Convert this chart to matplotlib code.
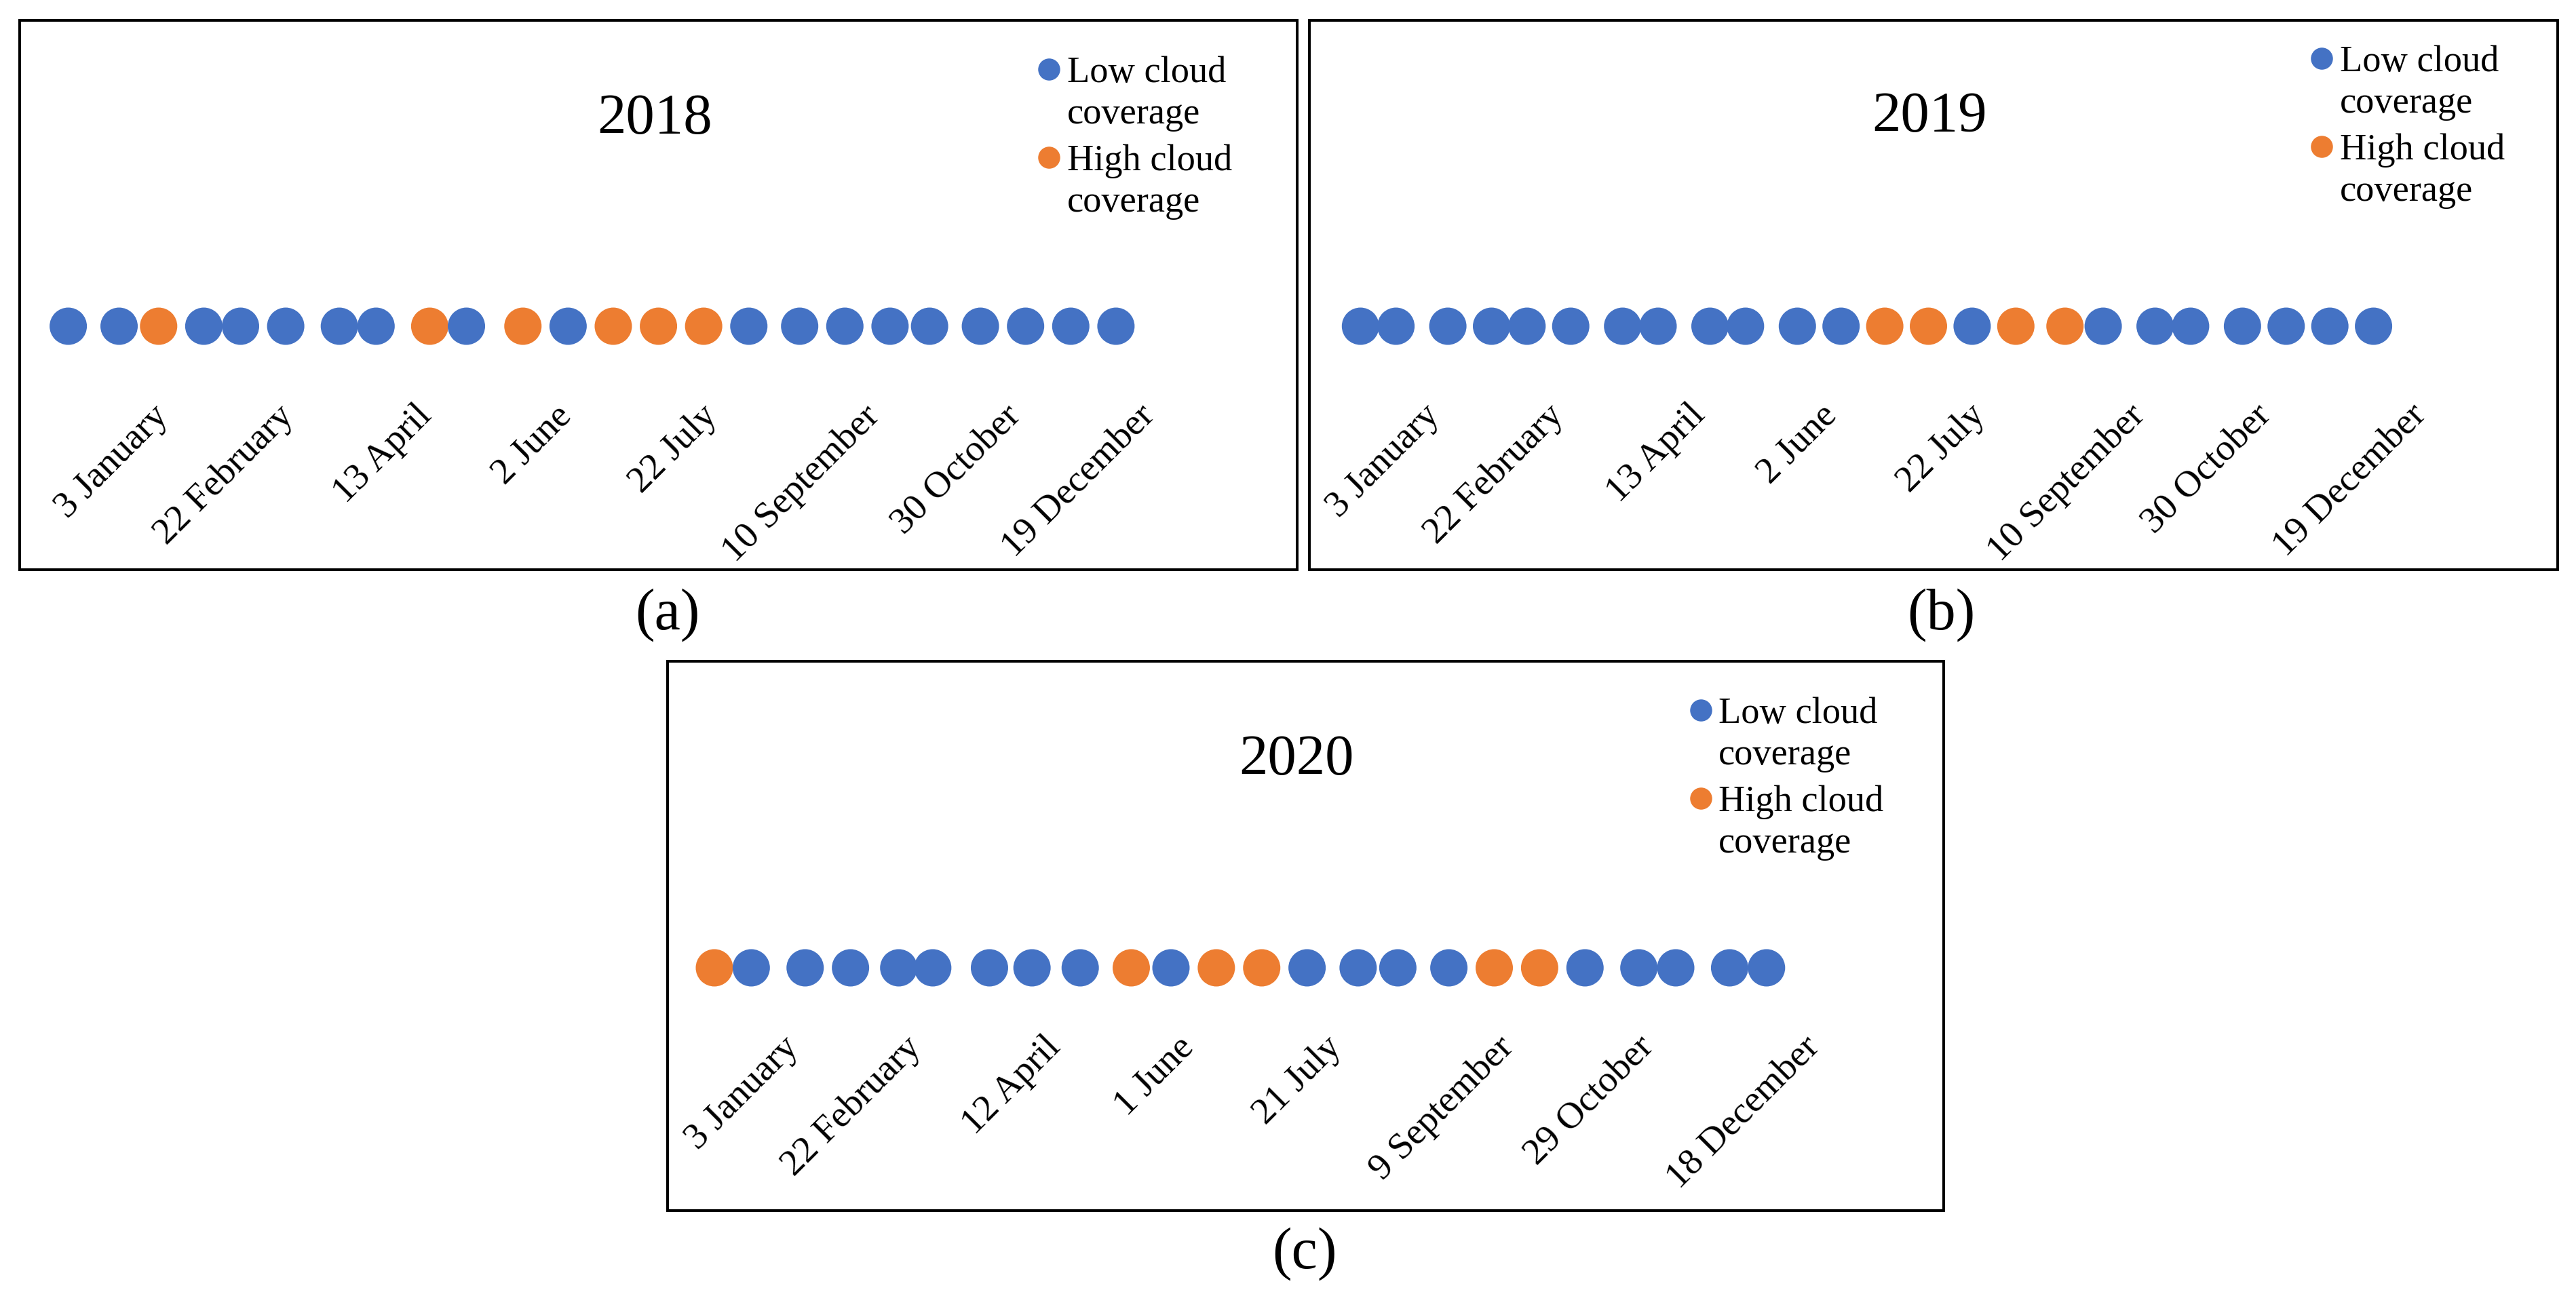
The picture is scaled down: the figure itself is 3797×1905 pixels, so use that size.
import matplotlib
matplotlib.use("Agg")
import matplotlib.pyplot as plt
from matplotlib.transforms import Affine2D

W, H = 3798, 1906
DPI = 200
SERIF = ["Liberation Serif", "DejaVu Serif"]

BLUE = "#4472C4"
ORANGE = "#ED7D31"

# ---------------- data (days counted from 3 January of each year) -------------
days_2018 = [0, 18, 32, 48, 61, 77, 96, 109, 128, 141, 161, 177, 193, 209, 225,
             241, 259, 275, 291, 305, 323, 339, 355, 371]
cloud_2018 = ["L", "L", "H", "L", "L", "L", "L", "L", "H", "L", "H", "L", "H",
              "H", "H", "L", "L", "L", "L", "L", "L", "L", "L", "L"]

days_2019 = [0, 13, 32, 48, 61, 77, 96, 109, 128, 141, 160, 176, 192, 208, 224,
             240, 258, 272, 291, 304, 323, 339, 355, 371]
cloud_2019 = ["L", "L", "L", "L", "L", "L", "L", "L", "L", "L", "L", "L", "H",
              "H", "L", "H", "H", "L", "L", "L", "L", "L", "L", "L"]

days_2020 = [0, 13, 32, 48, 65, 77, 97, 112, 129, 147, 161, 177, 193, 209, 227,
             241, 259, 275, 291, 307, 326, 339, 358, 371]
cloud_2020 = ["H", "L", "L", "L", "L", "L", "L", "L", "L", "H", "L", "H", "H",
              "L", "L", "L", "L", "H", "H", "L", "L", "L", "L", "L"]

labels_2018 = ["3 January", "22 February", "13 April", "2 June", "22 July",
               "10 September", "30 October", "19 December"]
labels_2019 = ["3 January", "22 February", "13 April", "2 June", "22 July",
               "10 September", "30 October", "19 December"]
labels_2020 = ["3 January", "22 February", "12 April", "1 June", "21 July",
               "9 September", "29 October", "18 December"]

# positions of the label anchors along the day axis
ticks_2018 = [29.2, 73.7, 122.7, 172.0, 223.6, 281.3, 331.2, 378.8]
ticks_2019 = [22.6, 68.1, 119.8, 168.2, 222.4, 281.0, 327.2, 384.1]
ticks_2020 = [23.5, 66.8, 115.9, 162.8, 214.9, 275.7, 325.2, 383.6]

years = ["2018", "2019", "2020"]
captions = ["(a)", "(b)", "(c)"]
legend_labels = [("Low cloud", "coverage"), ("High cloud", "coverage")]

# ---------------- layout (pixel geometry) ----------------------------------------
layout = [
    dict(box=(29, 31, 1912, 841), x0=100.6, ppd=4.1625, row=482, lab_y=588,
         title=(965, 197), cap=(984, 927), leg=(1546, 1573, 0)),
    dict(box=(1930, 31, 3770, 841), x0=2005.3, ppd=4.025, row=482, lab_y=587,
         title=(2844, 194), cap=(2861, 927), leg=(3422, 3449, -16)),
    dict(box=(984, 976, 2865, 1786), x0=1053.0, ppd=4.18, row=1428, lab_y=1519,
         title=(1911, 1142), cap=(1923, 1869), leg=(2507, 2533, 0)),
]
series = [(days_2018, cloud_2018, labels_2018, ticks_2018),
          (days_2019, cloud_2019, labels_2019, ticks_2019),
          (days_2020, cloud_2020, labels_2020, ticks_2020)]

fig = plt.figure(figsize=(W / DPI, H / DPI), dpi=DPI)
fig.patch.set_facecolor("white")
PX = Affine2D().scale(1, -1).translate(0, H)   # pixel coords, origin top-left

DOT_S = (55 * 72 / DPI) ** 2
LEG_S = (32.5 * 72 / DPI) ** 2
TICK_FS = 19.8
LEG_FS = 19.6

for k, (lay, (days, cloud, labels, ticks)) in enumerate(zip(layout, series)):
    L, T, R, B = lay["box"]
    ax = fig.add_axes([L / W, 1 - B / H, (R - L) / W, (B - T) / H])
    ax.set_xlim((L - lay["x0"]) / lay["ppd"], (R - lay["x0"]) / lay["ppd"])
    ax.set_ylim(-(B - lay["row"]), lay["row"] - T)
    cols = [BLUE if c == "L" else ORANGE for c in cloud]
    ax.scatter(days, [0] * len(days), s=DOT_S, c=cols, linewidths=0, zorder=3)
    ax.set_xticks(ticks)
    ax.set_xticklabels(labels, fontsize=TICK_FS, family=SERIF)
    ax.tick_params(axis="x", length=0, pad=-(B - lay["lab_y"]) * 72 / DPI)
    for t in ax.get_xticklabels():
        t.set_rotation(45)
        t.set_ha("right")
        t.set_va("top")
        t.set_rotation_mode("anchor")
    ax.set_yticks([])
    for s in ax.spines.values():
        s.set_linewidth(1.45)
        s.set_color("black")

    # title
    tx, ty = lay["title"]
    fig.text(tx, ty, years[k], transform=PX, ha="center", va="baseline",
             fontsize=30.5, family=SERIF)
    # caption
    cx, cy = lay["cap"]
    fig.text(cx, cy, captions[k], transform=PX, ha="center", va="baseline",
             fontsize=31, family=SERIF)

    # legend
    mx, txl, dy = lay["leg"]
    base = T + dy
    for j, (l1, l2) in enumerate(legend_labels):
        yoff = base + j * 130
        ax.scatter([mx], [yoff + 72], s=LEG_S, c=[BLUE, ORANGE][j], linewidths=0,
                   transform=PX, clip_on=False, zorder=4)
        fig.text(txl, yoff + 90, l1, transform=PX, ha="left", va="baseline",
                 fontsize=LEG_FS, family=SERIF)
        fig.text(txl, yoff + 151, l2, transform=PX, ha="left", va="baseline",
                 fontsize=LEG_FS, family=SERIF)

fig.savefig("out.png", dpi=DPI, facecolor="white")
